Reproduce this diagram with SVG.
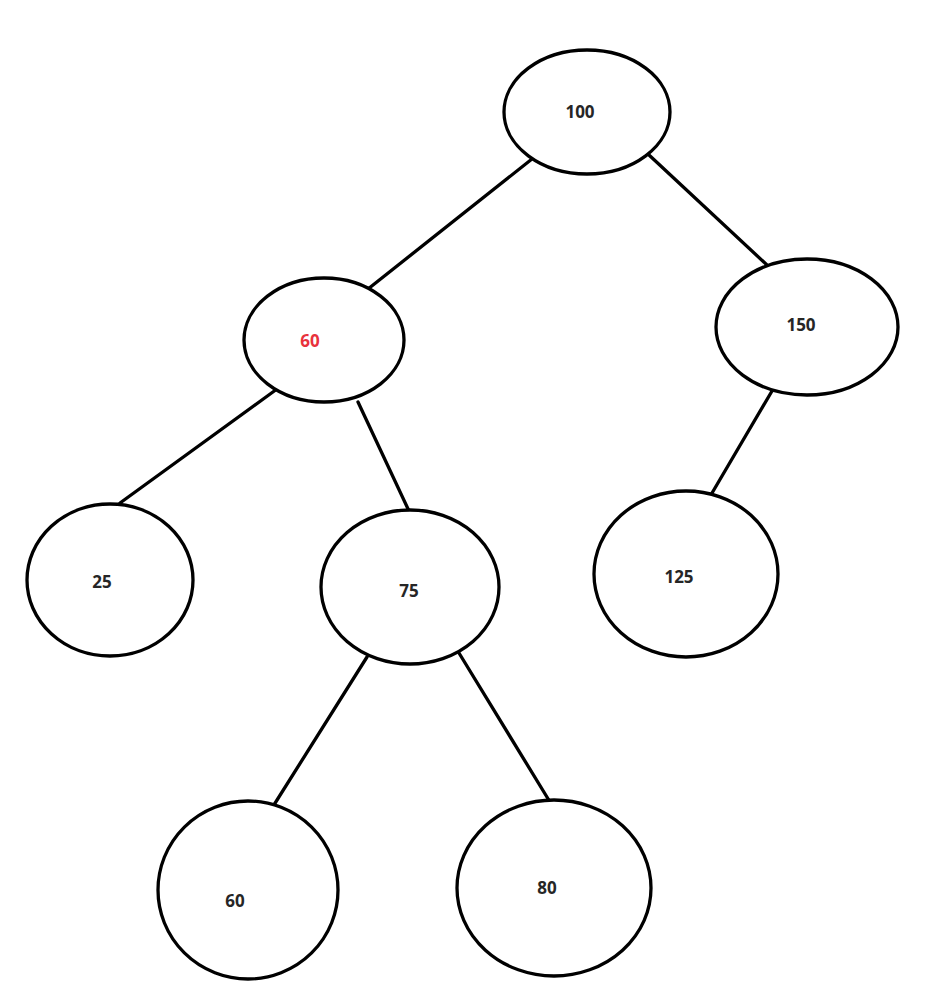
<svg xmlns="http://www.w3.org/2000/svg" width="932" height="998" viewBox="0 0 932 998">
<style>
.n{fill:#fff;stroke:#000;stroke-width:3.3}
.e{stroke:#000;stroke-width:3.3;stroke-linecap:round;fill:none}
.t{font-family:"Open Sans","Liberation Sans",sans-serif;font-weight:bold;font-size:17px;fill:#262626;text-anchor:middle}
.r{fill:#e8323c}
</style>
<rect width="932" height="998" fill="#fff"/>
<g id="connectors">
<line class="e" x1="537" y1="155" x2="368" y2="289"/>
<line class="e" x1="649" y1="155" x2="767" y2="265"/>
<line class="e" x1="277" y1="389" x2="120" y2="503"/>
<line class="e" x1="358" y1="402" x2="409" y2="511"/>
<line class="e" x1="772" y1="391" x2="705" y2="505"/>
<line class="e" x1="367" y1="657" x2="272" y2="808"/>
<line class="e" x1="459" y1="653" x2="550" y2="802"/>
</g>
<g id="n100"><ellipse class="n" cx="587" cy="112" rx="83" ry="62"/><text class="t" x="580" y="118">100</text></g>
<g id="n60"><ellipse class="n" cx="324" cy="340" rx="80" ry="62"/><text class="t r" x="310" y="347">60</text></g>
<g id="n150"><ellipse class="n" cx="807" cy="327" rx="91" ry="68"/><text class="t" x="801" y="331">150</text></g>
<g id="n25"><ellipse class="n" cx="110" cy="580" rx="83" ry="76"/><text class="t" x="102" y="588">25</text></g>
<g id="n75"><ellipse class="n" cx="410" cy="587" rx="89" ry="77"/><text class="t" x="409" y="597">75</text></g>
<g id="n125"><ellipse class="n" cx="686" cy="574" rx="92" ry="83"/><text class="t" x="679" y="583">125</text></g>
<g id="n60b"><ellipse class="n" cx="248" cy="890" rx="90" ry="89"/><text class="t" x="235" y="907">60</text></g>
<g id="n80"><ellipse class="n" cx="554" cy="888" rx="97" ry="88"/><text class="t" x="547" y="894">80</text></g>
</svg>
